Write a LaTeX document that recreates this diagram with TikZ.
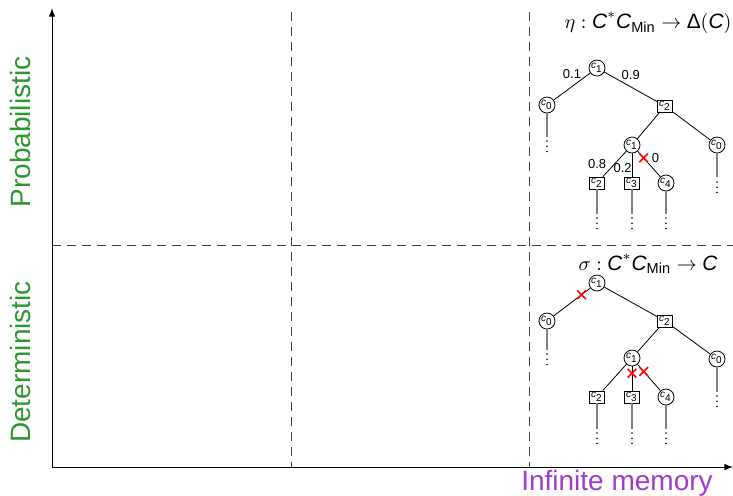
\documentclass[tikz,border=0pt]{standalone}
\usepackage{amsmath}
\usepackage{fontspec}
\setmainfont{Liberation Sans}
\usetikzlibrary{positioning}
\usetikzlibrary{calc}
\usetikzlibrary{shapes.misc}
\usetikzlibrary{arrows}

\definecolor{axisgreen}{RGB}{45,150,45}
\definecolor{memviolet}{RGB}{160,60,205}

\newcommand{\lab}[1]{\textit{c}$_{\text{#1}}$}

\begin{document}
\begin{tikzpicture}[
    x=0.5pt, y=-0.5pt,
    >=latex,
    every node/.style={font=\fontsize{5}{6}\selectfont},
    rnd/.style={draw, circle, fill=white, inner sep=0pt, minimum size=8pt},
    sq/.style={draw, rectangle, fill=white, inner sep=0pt, minimum width=7.5pt, minimum height=6pt},
    stem/.style={draw=gray, line width=0.9pt},
    more/.style={line width=0.9pt, line cap=round, dash pattern=on 0pt off 2.6pt},
    prob/.style={font=\fontsize{6.5}{7}\selectfont, inner sep=1pt},
    cross/.style={cross out, draw=red, line width=0.8pt, minimum size=3.5pt, inner sep=0pt},
    sep/.style={draw=black!75, line width=0.5pt, dash pattern=on 4.5pt off 3pt},
    axislabel/.style={font=\fontsize{14}{16}\selectfont},
    title/.style={font=\fontsize{10.4}{12}\selectfont}
]
\useasboundingbox (0,0) rectangle (733,495);

% axes and quadrants
\coordinate (origin) at (52,467);
\coordinate (ytip) at (52,8);
\coordinate (xtip) at (733,467);
\coordinate (v1t) at (291,12);
\coordinate (v1b) at (291,467);
\coordinate (v2t) at (529,12);
\coordinate (v2b) at (529,467);
\coordinate (hl) at (52,245);
\coordinate (hr) at (733,245);
\draw[sep] (v1t) -- (v1b);
\draw[sep] (v2t) -- (v2b);
\draw[sep] (hl) -- (hr);
\draw[->, line width=0.5pt] (origin) -- (ytip);
\draw[->, line width=0.5pt] (origin) -- (xtip);

\node[axislabel, text=axisgreen, rotate=90] (probl) at (20,132) {Probabilistic};
\node[axislabel, text=axisgreen, rotate=90] (detl) at (20,362) {Deterministic};
\node[axislabel, text=memviolet] (meml) at (617,483) {Infinite memory};

% probabilistic strategy
\node[title] (eta) at (648,23) {$\eta:\textit{C}^*\textit{C}_{\text{Min}}\rightarrow\text{Δ}(\textit{C})$};
\node[rnd] (pc1) at (597,68) {\lab{1}};
\node[rnd] (pc0) at (547,105) {\lab{0}};
\node[sq]  (pc2) at (665,106) {\lab{2}};
\node[rnd] (pd1) at (632,145) {\lab{1}};
\node[rnd] (pd0) at (717,145) {\lab{0}};
\node[sq]  (pe2) at (597,183) {\lab{2}};
\node[sq]  (pe3) at (632,183) {\lab{3}};
\node[rnd] (pe4) at (666,183) {\lab{4}};
\draw (pc1) -- node[prob, above=2.5pt] {0.1} (pc0);
\draw (pc1) -- node[prob, above=2.5pt] {0.9} (pc2);
\draw (pc2) -- (pd1);
\draw (pc2) -- (pd0);
\draw (pd1) -- node[prob, left=3pt] {0.8} (pe2);
\draw (pd1) -- node[prob, left=-1pt, pos=0.65] {0.2} (pe3);
\draw (pd1) -- node[cross, pos=0.26] {} node[prob, right=3pt, pos=0.26] {0} (pe4);

% deterministic strategy
\node[title] (sigma) at (648,264) {$\sigma:\textit{C}^*\textit{C}_{\text{Min}}\rightarrow\textit{C}$};
\node[rnd] (qc1) at (597,283) {\lab{1}};
\node[rnd] (qc0) at (547,321) {\lab{0}};
\node[sq]  (qc2) at (665,321) {\lab{2}};
\node[rnd] (qd1) at (632,358) {\lab{1}};
\node[rnd] (qd0) at (717,359) {\lab{0}};
\node[sq]  (qe2) at (597,397) {\lab{2}};
\node[sq]  (qe3) at (632,397) {\lab{3}};
\node[rnd] (qe4) at (666,397) {\lab{4}};
\draw (qc1) -- node[cross, pos=0.24] {} (qc0);
\draw (qc1) -- (qc2);
\draw (qc2) -- (qd1);
\draw (qc2) -- (qd0);
\draw (qd1) -- (qe2);
\draw (qd1) -- node[cross, pos=0.28] {} (qe3);
\draw (qd1) -- node[cross, pos=0.27] {} (qe4);

% unfolding below the leaves
\foreach \n/\a/\b in {pc0/137/141, pd0/177/182, pe2/214/218, pe3/214/218, pe4/214/218,
                      qc0/350/354, qd0/392/396, qe2/429/433, qe3/429/433, qe4/429/433} {
  \coordinate (\n s) at (\n |- 0,\a);
  \coordinate (\n t) at (\n |- 0,\b);
  \coordinate (\n e) at ($(\n t)+(0,11)$);
  \draw[stem] (\n) -- (\n s);
  \draw[more] (\n t) -- (\n e);
}
\end{tikzpicture}
\end{document}
